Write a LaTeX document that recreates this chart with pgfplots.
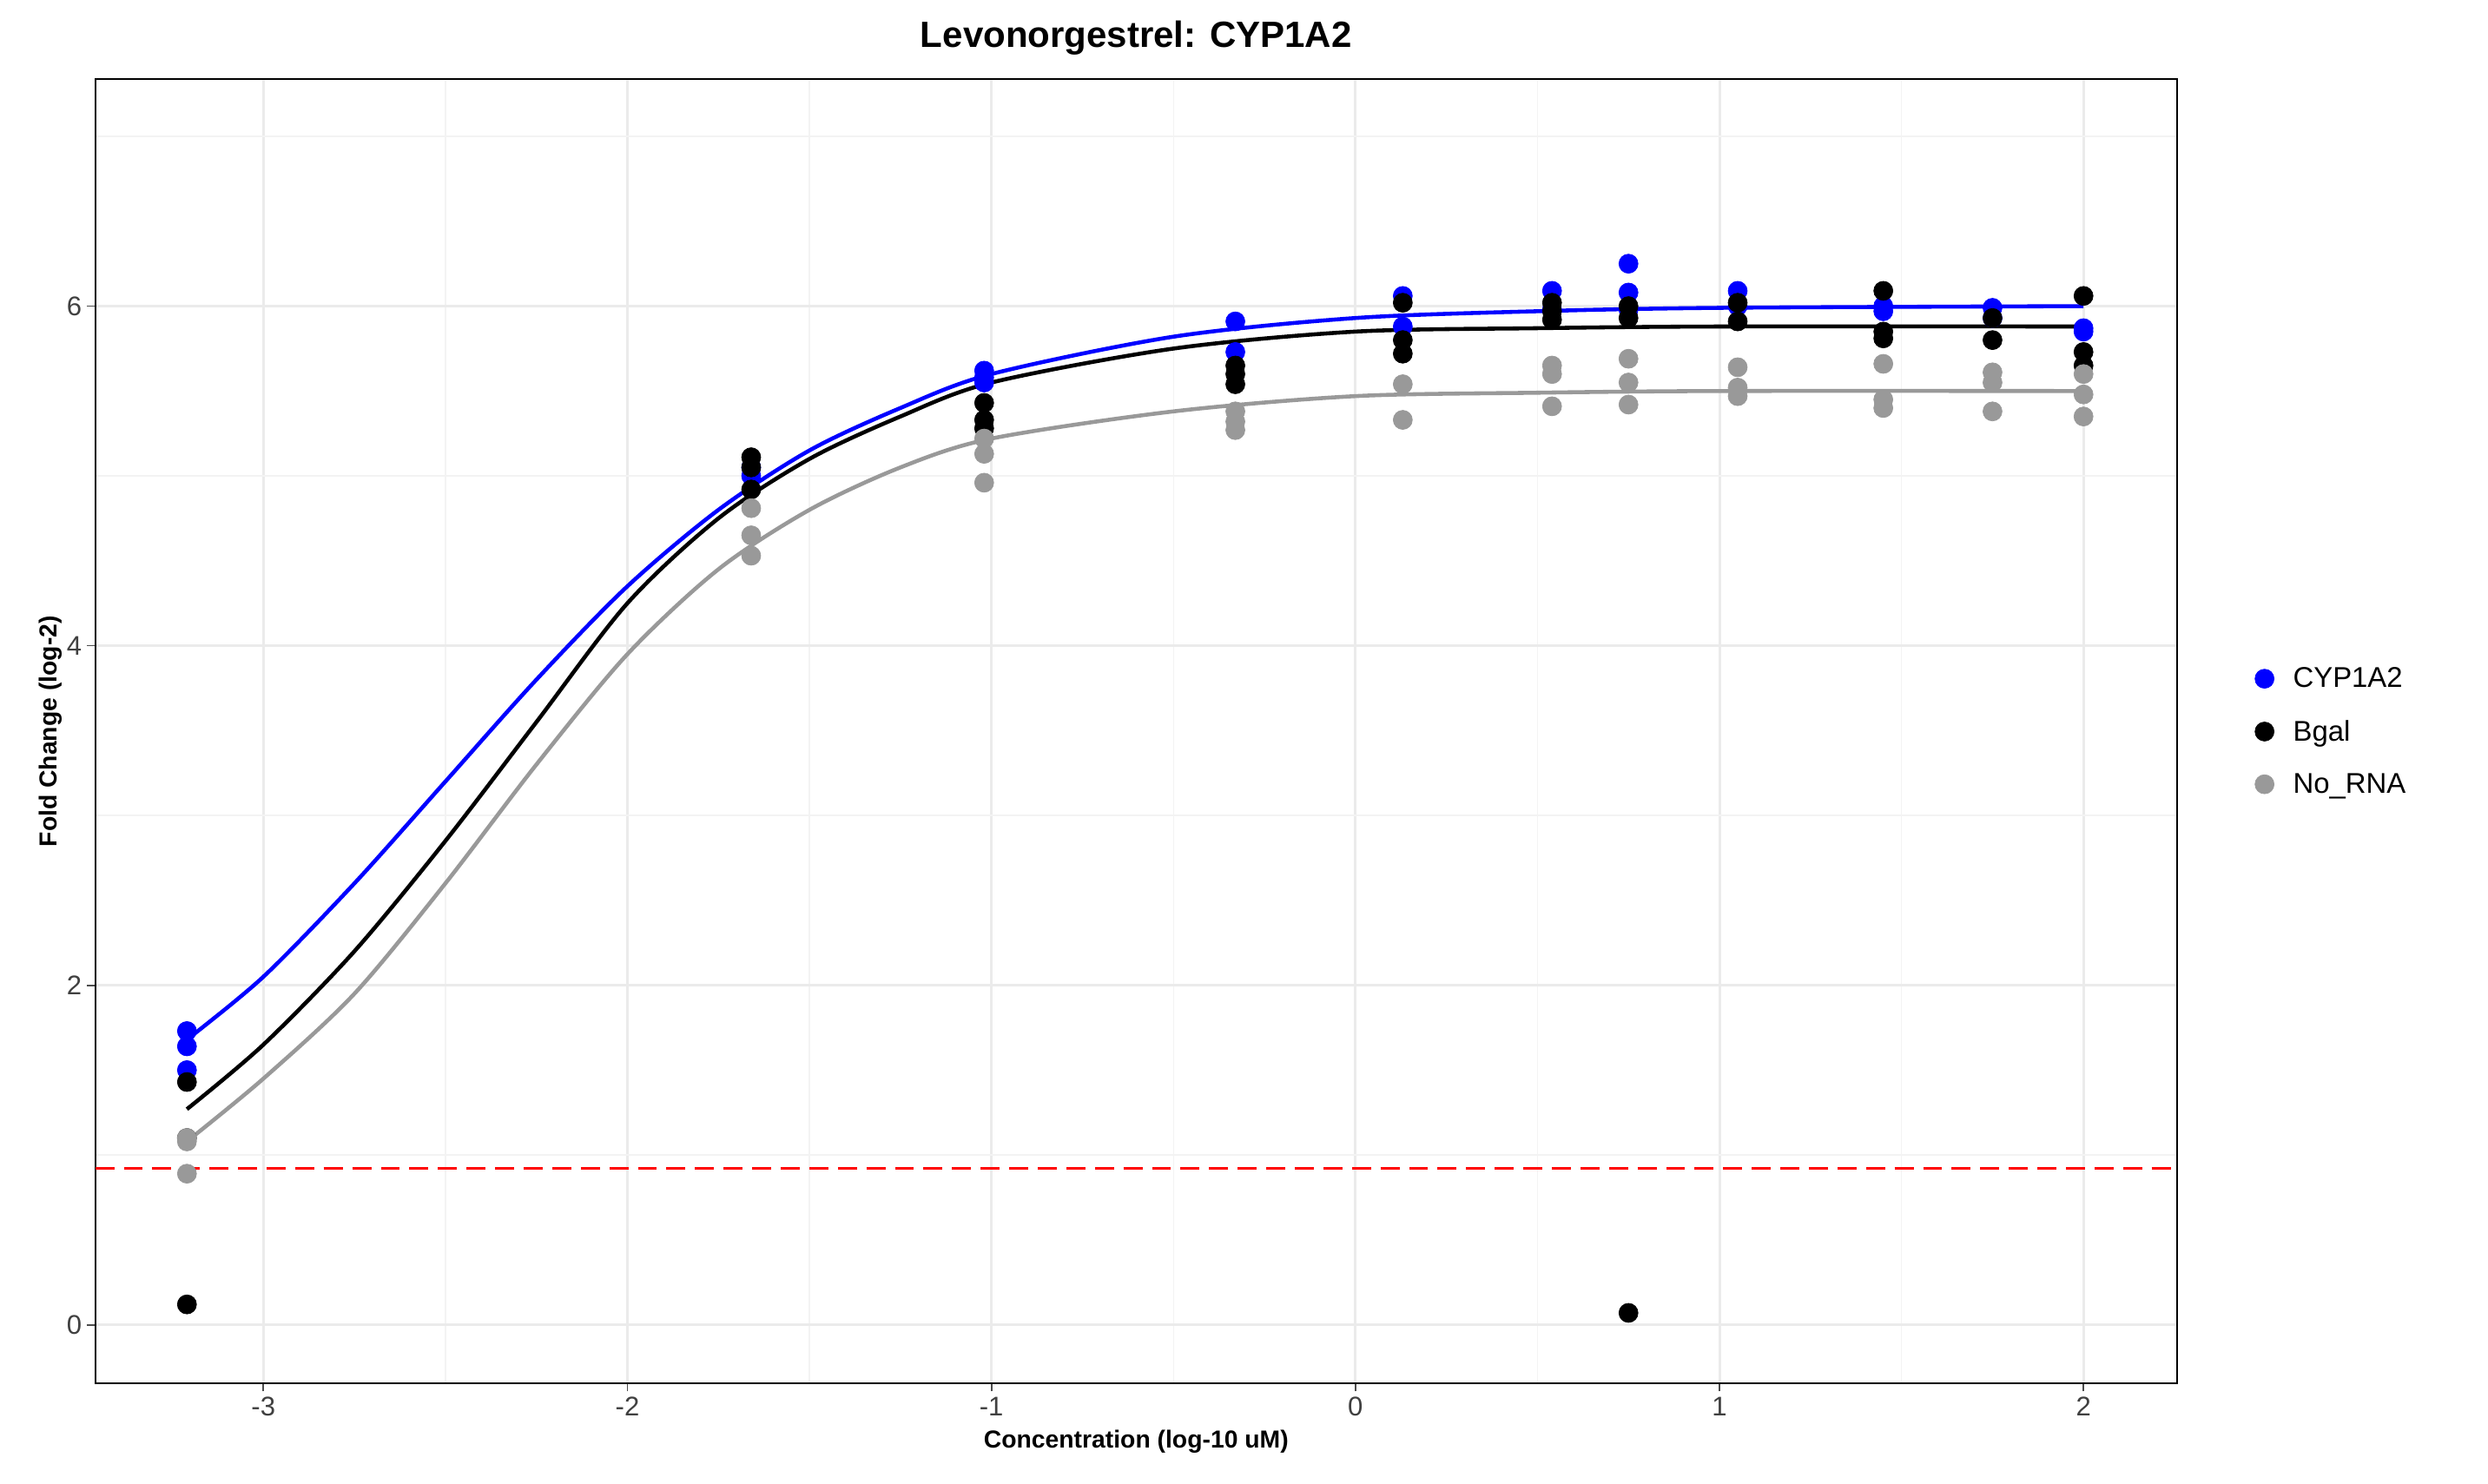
\documentclass[border=0pt]{standalone}
\usepackage{pgfplots}
\pgfplotsset{compat=1.18}
\usepackage{fontspec}
\setmainfont{Liberation Sans}
\definecolor{gridc}{gray}{0.92}
\definecolor{noc}{gray}{0.6}
\begin{document}
\begin{tikzpicture}
\path[use as bounding box] (-60pt,-63pt) rectangle (1508pt,872pt);
\begin{axis}[
  scale only axis, width=1312pt, height=822pt,
  xmin=-3.462, xmax=2.257, ymin=-0.346, ymax=7.336,
  xtick={-3,-2,-1,0,1,2}, ytick={0,2,4,6},
  minor xtick={-2.5,-1.5,-0.5,0.5,1.5}, minor ytick={1,3,5,7},
  grid=both,
  major grid style={gridc, line width=1.6pt},
  minor grid style={gridc!60!white, line width=0.8pt},
  tick align=outside, tick pos=left,
  major tick length=5pt, minor tick length=0pt,
  tick style={black!70, line width=1pt},
  axis line style={line width=1pt},
  /pgf/number format/assume math mode=true,
  ticklabel style={font=\fontsize{17}{19}\selectfont, text=black!75},
  title={\bfseries Levonorgestrel: CYP1A2},
  title style={font=\fontsize{23}{26}\selectfont, yshift=6pt},
  xlabel={\bfseries Concentration (log-10 uM)},
  ylabel={\bfseries Fold Change (log-2)},
  label style={font=\fontsize{15.5}{18}\selectfont},
  xlabel style={yshift=-2pt}, ylabel style={yshift=-4pt},
  legend style={at={(1.035,0.5)}, anchor=west, draw=none, font=\fontsize{18}{20}\selectfont, row sep=15pt, fill=none,
     nodes={inner xsep=12pt}},
  legend cell align=left,
]
\addplot[red, dashed, line width=1.5pt, dash pattern=on 12pt off 6pt, forget plot] coordinates {(-3.462,0.92) (2.257,0.92)};
\addplot[noc, line width=2.5pt, smooth, forget plot] coordinates {(-3.21,1.08)(-3,1.45)(-2.75,1.95)(-2.5,2.6)(-2.25,3.3)(-2,3.95)(-1.75,4.45)(-1.5,4.8)(-1.25,5.05)(-1,5.22)(-0.5,5.38)(0,5.47)(0.5,5.49)(1,5.5)(2,5.5)};
\addplot[black, line width=2.5pt, smooth, forget plot] coordinates {(-3.21,1.27)(-3,1.65)(-2.75,2.2)(-2.5,2.85)(-2.25,3.55)(-2,4.25)(-1.75,4.75)(-1.5,5.1)(-1.25,5.35)(-1,5.55)(-0.5,5.75)(0,5.85)(0.5,5.87)(1,5.88)(2,5.88)};
\addplot[blue, line width=2.5pt, smooth, forget plot] coordinates {(-3.21,1.68)(-3,2.05)(-2.75,2.6)(-2.5,3.2)(-2.25,3.8)(-2,4.35)(-1.75,4.8)(-1.5,5.15)(-1.25,5.4)(-1,5.6)(-0.5,5.82)(0,5.93)(0.5,5.97)(1,5.99)(2,6.0)};
\addplot[only marks, mark=*, mark size=6pt, blue, mark options={draw=blue}] coordinates {
(-3.21,1.73)(-3.21,1.64)(-3.21,1.50)(-1.66,5.05)(-1.66,5.0)(-1.02,5.62)(-1.02,5.58)(-1.02,5.55)
(-0.33,5.91)(-0.33,5.73)(0.13,6.06)(0.13,5.88)(0.54,6.09)(0.54,5.98)(0.75,6.25)(0.75,6.08)(0.75,5.98)
(1.05,6.09)(1.05,6.0)(1.45,6.0)(1.45,5.97)(1.75,5.99)(1.75,5.93)(2.0,5.87)(2.0,5.85)};
\addlegendentry{CYP1A2}
\addplot[only marks, mark=*, mark size=6pt, black] coordinates {
(-3.21,1.43)(-3.21,1.10)(-3.21,0.12)(-1.66,5.11)(-1.66,5.05)(-1.66,4.92)(-1.02,5.43)(-1.02,5.33)(-1.02,5.28)
(-0.33,5.65)(-0.33,5.60)(-0.33,5.54)(0.13,6.02)(0.13,5.80)(0.13,5.72)(0.54,6.02)(0.54,5.97)(0.54,5.92)
(0.75,6.0)(0.75,5.93)(0.75,0.07)(1.05,6.02)(1.05,5.91)(1.45,6.09)(1.45,5.85)(1.45,5.81)(1.75,5.93)(1.75,5.80)
(2.0,6.06)(2.0,5.73)(2.0,5.65)};
\addlegendentry{Bgal}
\addplot[only marks, mark=*, mark size=6pt, noc] coordinates {
(-3.21,1.10)(-3.21,1.08)(-3.21,0.89)(-1.66,4.81)(-1.66,4.65)(-1.66,4.53)(-1.02,5.22)(-1.02,5.13)(-1.02,4.96)
(-0.33,5.38)(-0.33,5.32)(-0.33,5.27)(0.13,5.54)(0.13,5.33)(0.54,5.65)(0.54,5.60)(0.54,5.41)
(0.75,5.69)(0.75,5.55)(0.75,5.42)(1.05,5.64)(1.05,5.52)(1.05,5.47)(1.45,5.66)(1.45,5.45)(1.45,5.40)
(1.75,5.61)(1.75,5.55)(1.75,5.38)(2.0,5.60)(2.0,5.48)(2.0,5.35)};
\addlegendentry{No\_RNA}
\end{axis}
\end{tikzpicture}
\end{document}
